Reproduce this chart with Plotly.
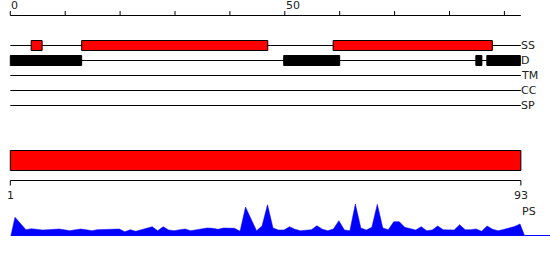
import plotly.graph_objects as go

# ---------------- data ----------------
SEQ_LEN = 93
TRACKS = ["SS", "D", "TM", "CC", "SP"]

SS_START = [3.8, 13.0, 58.8]
SS_END = [5.8, 46.9, 87.8]

D_START = [0.0, 49.8, 84.8, 86.8]
D_END = [13.0, 60.0, 85.9, 92.9]

TOP_TICKS = [0, 10, 20, 30, 40, 50, 60, 70, 80, 90]
TOP_TICK_LABELS = ["0", "50"]
TOP_LABEL_POS = [0, 50]
BOTTOM_LABELS = ["1", "93"]

PS_VALUES = [
    18.7, 12.5, 6.3, 7.3, 6.6, 6.0, 6.3, 6.7, 7.0, 6.2,
    5.3, 6.2, 7.0, 6.2, 5.3, 6.3, 6.3, 6.4, 6.7, 7.0,
    4.3, 6.3, 4.7, 6.0, 7.6, 9.3, 5.3, 9.3, 6.0, 5.3,
    6.2, 7.0, 5.3, 6.2, 7.2, 8.0, 7.7, 6.7, 8.0, 7.8,
    7.7, 4.7, 29.0, 17.0, 5.3, 10.0, 31.3, 8.0, 6.0, 6.0,
    9.3, 6.7, 5.3, 5.8, 6.3, 10.3, 6.7, 5.3, 7.0, 15.3,
    6.0, 5.3, 32.0, 8.0, 6.0, 8.7, 31.7, 8.0, 6.3, 14.3,
    14.3, 8.7, 7.5, 6.0, 9.3, 5.3, 6.0, 10.0, 6.3, 6.2,
    6.0, 11.3, 6.3, 6.3, 7.0, 4.7, 10.0, 6.7, 5.3, 6.5,
    8.0, 9.5, 12.0,
]

# ---------------- layout constants ----------------
W, H = 550, 260
PX = 5.49          # pixels per residue
X0 = 10.3          # pixel of residue 0
ROW_Y = {"SS": 45.5, "D": 60.5, "TM": 75.5, "CC": 90.5, "SP": 105.5}
TOP_AXIS_Y = 15.5
BOTTOM_AXIS_Y = 180.5
BIG_BAR_Y = 160.5
FONT = dict(family="DejaVu Sans", size=11, color="#222222")
RED = "#ff0000"
BLUE = "#0000ff"

fig = go.Figure()

# SS boxes
fig.add_trace(go.Bar(
    orientation="h", base=SS_START,
    x=[e - s for s, e in zip(SS_START, SS_END)],
    y=[ROW_Y["SS"]] * len(SS_START), width=10,
    marker=dict(color=RED, line=dict(color="black", width=1)),
    yaxis="y", xaxis="x",
))
# D boxes
fig.add_trace(go.Bar(
    orientation="h", base=D_START,
    x=[e - s for s, e in zip(D_START, D_END)],
    y=[ROW_Y["D"]] * len(D_START), width=10,
    marker=dict(color="black", line=dict(color="black", width=1)),
))
# full-length bar
fig.add_trace(go.Bar(
    orientation="h", base=[0], x=[SEQ_LEN], y=[BIG_BAR_Y], width=20,
    marker=dict(color=RED, line=dict(color="black", width=1)),
))

# PS profile
ps_x = [0.1] + [i - 0.15 for i in range(1, SEQ_LEN + 1)] + [SEQ_LEN + 0.7]
ps_y = [0] + PS_VALUES + [0]
fig.add_trace(go.Scatter(
    x=ps_x, y=ps_y, yaxis="y2", mode="lines", fill="tozeroy",
    fillcolor=BLUE, line=dict(color=BLUE, width=0.5),
))
fig.add_trace(go.Scatter(
    x=[SEQ_LEN + 0.7, (W - X0) / PX + 1], y=[0.5, 0.5], yaxis="y2",
    mode="lines", line=dict(color=BLUE, width=1),
))

shapes = []
# track lines
for t in TRACKS:
    shapes.append(dict(type="line", xref="x", yref="y", x0=0, x1=SEQ_LEN,
                       y0=ROW_Y[t], y1=ROW_Y[t], layer="below",
                       line=dict(color="black", width=1)))
# top axis
shapes.append(dict(type="line", xref="x", yref="y", x0=0, x1=SEQ_LEN,
                   y0=TOP_AXIS_Y, y1=TOP_AXIS_Y, line=dict(color="black", width=1)))
for t in TOP_TICKS:
    shapes.append(dict(type="line", xref="x", yref="y", x0=t, x1=t,
                       y0=11, y1=TOP_AXIS_Y, line=dict(color="black", width=1)))
# bottom axis
shapes.append(dict(type="line", xref="x", yref="y", x0=0, x1=SEQ_LEN,
                   y0=BOTTOM_AXIS_Y, y1=BOTTOM_AXIS_Y, line=dict(color="black", width=1)))
for t in [0, SEQ_LEN]:
    shapes.append(dict(type="line", xref="x", yref="y", x0=t, x1=t,
                       y0=BOTTOM_AXIS_Y, y1=185.5, line=dict(color="black", width=1)))

annotations = []
for lbl, pos in zip(TOP_TICK_LABELS, TOP_LABEL_POS):
    annotations.append(dict(x=pos, y=5, xref="x", yref="y", text=lbl, showarrow=False,
                            xanchor="left", yanchor="middle", font=FONT, borderpad=0))
for lbl, pos in zip(BOTTOM_LABELS, [0, SEQ_LEN]):
    annotations.append(dict(x=pos, y=195, xref="x", yref="y", text=lbl, showarrow=False,
                            xanchor="center", yanchor="middle", font=FONT, borderpad=0))
annotations.append(dict(x=SEQ_LEN + 0.1, y=211, xref="x", yref="y", text="PS",
                        showarrow=False, xanchor="left", yanchor="middle", font=FONT,
                        borderpad=0))
for t in TRACKS:
    annotations.append(dict(x=SEQ_LEN - 0.1, y=ROW_Y[t], xref="x", yref="y", text=t,
                            showarrow=False, xanchor="left", yanchor="middle", font=FONT,
                            borderpad=0))

base_px = 236
fig.update_layout(
    width=W, height=H, margin=dict(l=0, r=0, t=0, b=0, pad=0),
    paper_bgcolor="white", plot_bgcolor="white",
    showlegend=False, hovermode=False, barmode="overlay",
    shapes=shapes, annotations=annotations,
    xaxis=dict(range=[-X0 / PX, (W - X0) / PX], visible=False, fixedrange=True),
    yaxis=dict(range=[H, 0], visible=False, fixedrange=True),
    yaxis2=dict(range=[0, 40], domain=[(H - base_px) / H, (H - base_px + 40) / H],
                visible=False, fixedrange=True, anchor="x"),
)

fig.write_html("out.html", config={"displayModeBar": False})
